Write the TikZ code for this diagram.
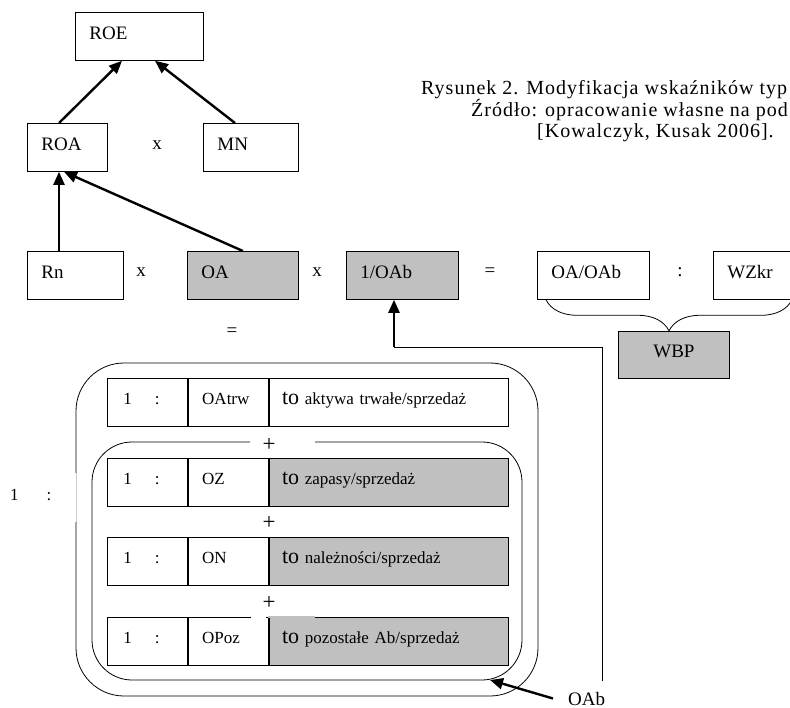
\documentclass[tikz,border=0pt]{standalone}
\usepackage{fontspec}
\setmainfont{Liberation Serif}
\newfontfamily\capfont[LetterSpace=5]{Liberation Serif}
\usetikzlibrary{positioning, arrows.meta, decorations.pathreplacing}
\definecolor{boxgray}{RGB}{192,192,192}
\newcommand\bigf{\fontsize{19}{22}\selectfont}
\newcommand\midf{\fontsize{17}{20}\selectfont}
\newcommand\tof{\fontsize{22}{24}\selectfont}
\tikzset{
  box/.style={draw, line width=0.8pt, anchor=north west, minimum height=48pt,
    inner xsep=14pt, inner ysep=0pt, text height=13pt, text depth=7pt,
    align=left, font=\bigf},
  cell/.style={draw, line width=0.8pt, anchor=north west, minimum height=48pt,
    inner ysep=0pt, text height=12pt, text depth=8pt, align=left, font=\midf},
  sign/.style={font=\bigf, inner sep=0pt},
  arr/.style={line width=2.4pt, -{Triangle[length=13pt,width=11pt]}}
}
\begin{document}
\begin{tikzpicture}[x=1pt, y=-1pt]

    \useasboundingbox (0,0) rectangle (790,708);
    \clip (0,0) rectangle (790,708);

    % caption
    \node (cap1) [anchor=base west, inner sep=0pt, font=\capfont\fontsize{20}{22}\selectfont] at (421,95) {Rysunek 2. Modyfikacja wskaźników typ};
    \node (cap2) [anchor=base west, inner sep=0pt, font=\capfont\fontsize{20}{22}\selectfont] at (471,117) {Źródło: opracowanie własne na pod};
    \node (cap3) [anchor=base west, inner sep=0pt, font=\capfont\fontsize{20}{22}\selectfont] at (537,138) {[Kowalczyk, Kusak 2006].};

    % ROE = ROA x MN
    \node (roe) [box, text width=100pt] at (75,12) {ROE};
    \node (roa) [box, text width=52pt] at (27,123) {ROA};
    \node (mn) [box, text width=67pt] at (203,123) {MN};
    \node (x1) [sign] at (157,145) {x};
    \draw[arr] ([xshift=32pt]roa.north west) -- ([xshift=47pt]roe.south west);
    \draw[arr] ([xshift=32pt]mn.north west) -- ([xshift=80pt]roe.south west);

    % Rn x OA x 1/OAb = OA/OAb : WZkr
    \node (rn) [box, text width=68pt] at (27,251) {Rn};
    \node (oa) [box, text width=83pt, fill=boxgray] at (187,251) {OA};
    \node (invoab) [box, text width=84pt, fill=boxgray] at (346,251) {1/OAb};
    \node (oaoab) [box, text width=84pt] at (537,251) {OA/OAb};
    \node (wzkr) [box, text width=67pt] at (713,251) {WZkr};
    \node (x2) [sign] at (141,272) {x};
    \node (x3) [sign] at (317,272) {x};
    \node (eq1) [sign] at (490,272) {=};
    \node (col1) [sign] at (680,272) {:};
    \node (eq2) [sign] at (232,332) {=};
    \draw[arr] ([xshift=32pt]rn.north west) -- ([xshift=32pt]roa.south west);
    \draw[arr] (oa.north) -- ([xshift=37pt]roa.south west);

    \draw[line width=0.8pt, decorate, decoration={brace, mirror, amplitude=31pt}]
        ([xshift=9pt]oaoab.south west) -- ([xshift=79pt]wzkr.south west);
    \node (wbp) [box, align=center, text width=83pt, minimum height=47pt, fill=boxgray] at (618,331) {WBP};

    % line back to 1/OAb
    \coordinate (pend) at (602,681);
    \coordinate (pfoot) at (394,347);
    \draw[line width=0.8pt] (pend) |- (pfoot);
    \draw[arr] (pfoot) -- (pfoot |- invoab.south);

    % rounded frames
    \draw[line width=0.8pt, rounded corners=48pt] (76,522) |- (538,696) |- (76,363) -- (76,473);
    \draw[gray!40, line width=0.6pt] (76,473) -- (76,522);
    \draw[line width=0.8pt, rounded corners=40pt] (250,442) -| (92,680) -| (522,442) -- (315,442);

    % rows
    \foreach \y/\lab/\desc/\col [count=\i] in {378/OAtrw/{aktywa trwałe/sprzedaż}/white,
        458/OZ/{zapasy/sprzedaż}/boxgray, 537/ON/{należności/sprzedaż}/boxgray,
        617/OPoz/{pozostałe Ab/sprzedaż}/boxgray}
    {
      \node (r\i a) [cell, inner xsep=16pt, text width=48pt] at (107,\y) {1\hskip 23pt:};
      \node (r\i b) [cell, inner xsep=14pt, text width=52pt] at (r\i a.north east) {\lab};
      \node (r\i c) [cell, inner xsep=13pt, text width=213pt, fill=\col] at (r\i b.north east) {{\tof to} \desc};
    }
    \draw[white, line width=1.2pt] (251,617) -- (266.4,617);
    \draw[boxgray, line width=1.2pt] (267.6,617) -- (315,617);

    \node (p1) [sign, font=\fontsize{23}{24}\selectfont] at (269,445) {+};
    \node (p2) [sign, font=\fontsize{23}{24}\selectfont] at (269,523) {+};
    \node (p3) [sign, font=\fontsize{23}{24}\selectfont] at (269,603) {+};
    \node (one) [anchor=base west, inner sep=0pt, font=\midf] at (10,500) {1\hskip 28pt:};

    % OAb
    \node (oab) [anchor=base west, inner sep=0pt, font=\bigf] at (568,705) {OAb};
    \coordinate (oabtip) at (490,680);
    \draw[arr] ([xshift=-15pt]oab.west) -- (oabtip);

\end{tikzpicture}
\end{document}
